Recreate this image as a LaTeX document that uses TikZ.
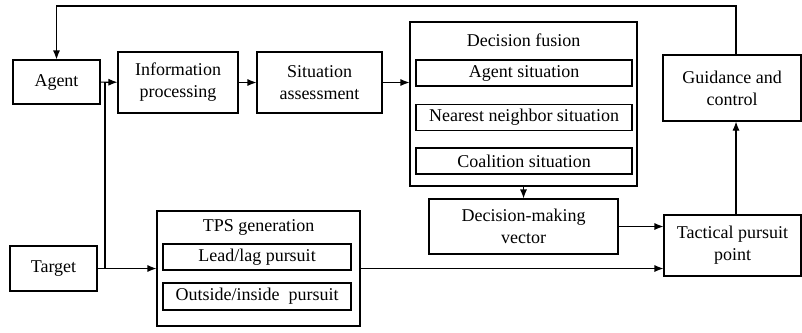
\documentclass[tikz,border=0pt]{standalone}
\usepackage{fontspec}
\setmainfont{Liberation Serif}
\usetikzlibrary{arrows.meta}
\begin{document}
\begin{tikzpicture}[x=1pt,y=-1pt,>={Latex[length=9pt,width=7pt]},line width=1.1pt,
  blk/.style={draw,align=center,inner sep=0pt,font=\rmfamily\fontsize{18}{22}\selectfont},
  lbl/.style={inner sep=0pt,font=\rmfamily\fontsize{18}{22}\selectfont}]
  \useasboundingbox (0,0) rectangle (802,332);
  % left column
  \node[blk,minimum width=87pt,minimum height=44pt] (agent) at (56.5,82) {Agent};
  \node[blk,minimum width=87pt,minimum height=45pt] (target) at (53.5,268.5) {Target};
  \node[blk,minimum width=120pt,minimum height=61pt] (info) at (178,82.5) {Information\\processing};
  \node[blk,minimum width=125pt,minimum height=61pt] (sit) at (319.5,82.5) {Situation\\assessment};
  % decision fusion
  \node[blk,minimum width=227pt,minimum height=164pt] (fus) at (523.5,104) {};
  \node[lbl] (fust) at (523.5,40) {Decision fusion};
  \node[blk,minimum width=216pt,minimum height=26pt] (ags) at (524,73) {Agent situation};
  \node[blk,minimum width=216pt,minimum height=26pt] (nns) at (524,117.5) {Nearest neighbor situation};
  \node[blk,minimum width=216pt,minimum height=26pt] (cos) at (524,161) {Coalition situation};
  \node[blk,minimum width=189pt,minimum height=55pt] (dmv) at (523.5,226.5) {Decision-making\\vector};
  % TPS generation
  \node[blk,minimum width=203pt,minimum height=115pt] (tps) at (258.5,268.5) {};
  \node[lbl] (tpst) at (258.5,227) {TPS generation};
  \node[blk,minimum width=188pt,minimum height=26pt] (lead) at (257,257) {Lead/lag pursuit};
  \node[blk,minimum width=188pt,minimum height=27pt] (outs) at (257,296.5) {Outside/inside~ pursuit};
  % right column
  \node[blk,minimum width=138pt,minimum height=66pt] (guid) at (732,88) {Guidance and\\control};
  \node[blk,minimum width=137pt,minimum height=61pt] (tpp) at (732.5,245.5) {Tactical pursuit\\point};
  \coordinate (top) at (736,6);
  \coordinate (ja) at (105,82);
  \coordinate (jt) at (105,268.5);
  % connectors
  \draw[->] (agent) -- (info);
  \draw[->] (info) -- (sit);
  \draw[->] (sit) -- (sit -| fus.west);
  \draw (jt) -- (ja);
  \draw[->] (target) -- (tps);
  \draw[->] (fus) -- (dmv);
  \draw[->] (dmv.east) -- (dmv.east -| tpp.west);
  \draw[->] (tps.east) -- (tps.east -| tpp.west);
  \draw[->] (tpp.north -| top) -- (guid.south -| top);
  \draw[->] (guid.north -| top) -- (top) -| (agent.north);
\end{tikzpicture}
\end{document}
